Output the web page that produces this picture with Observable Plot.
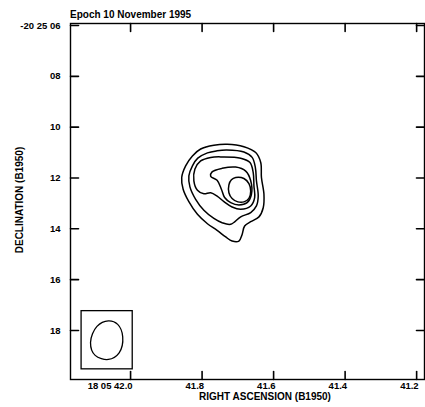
<!DOCTYPE html>
<html>
<head>
<meta charset="utf-8">
<script src="https://cdn.jsdelivr.net/npm/d3@7"></script>
<script src="https://cdn.jsdelivr.net/npm/@observablehq/plot@0.6"></script>
<style>
  html, body { margin: 0; padding: 0; background: #fff; }
  #wrap { position: relative; width: 425px; height: 407px; font-family: "Liberation Sans", Arial, sans-serif; font-weight: bold; color: #000; }
  #wrap svg { position: absolute; left: 0; top: 0; }
  .t { position: absolute; white-space: nowrap; line-height: 12px; }
  #title { left: 70px; top: 9px; font-size: 10px; }
  #xlab { left: 265px; top: 391px; font-size: 10px; transform: translateX(-50%); }
  #ylab { left: 20px; top: 200px; font-size: 10px; transform: translate(-50%, -50%) rotate(-90deg); }
</style>
</head>
<body>
<div id="wrap">
  <div class="t" id="title">Epoch 10 November 1995</div>
  <div class="t" id="xlab">RIGHT ASCENSION (B1950)</div>
  <div class="t" id="ylab">DECLINATION (B1950)</div>
</div>
<script>
// Axis ticks (RA seconds of 18h05m, Dec arcsec of -20°25')
const xTicks = [42.0, 41.8, 41.6, 41.4, 41.2];
const xTickLabels = ["18 05 42.0", "41.8", "41.6", "41.4", "41.2"];
const yTicks = [6, 8, 10, 12, 14, 16, 18];
const yTickLabels = ["-20 25 06", "08", "10", "12", "14", "16", "18"];
const xDomain = [42.168, 41.178];
const yDomain = [19.93, 5.92];

// Contour levels, [RA s, Dec arcsec]
const level1 = [[41.730,10.67],[41.683,10.77],[41.650,11.00],[41.636,11.39],[41.634,11.98],[41.627,12.64],[41.629,13.17],[41.641,13.53],[41.664,13.72],[41.681,13.89],[41.688,14.22],[41.697,14.48],[41.716,14.48],[41.734,14.32],[41.758,14.06],[41.785,13.80],[41.813,13.43],[41.837,12.93],[41.853,12.44],[41.857,11.98],[41.846,11.52],[41.827,11.13],[41.804,10.86],[41.767,10.71]];
const level2 = [[41.731,10.90],[41.683,10.98],[41.660,11.19],[41.651,11.59],[41.648,12.11],[41.643,12.71],[41.648,13.10],[41.664,13.36],[41.692,13.53],[41.720,13.82],[41.744,13.76],[41.767,13.59],[41.795,13.27],[41.818,12.84],[41.834,12.35],[41.837,11.92],[41.827,11.52],[41.812,11.22],[41.785,11.01],[41.758,10.93]];
const level3 = [[41.744,11.17],[41.692,11.22],[41.666,11.39],[41.657,11.79],[41.655,12.31],[41.653,12.77],[41.664,13.10],[41.692,13.23],[41.716,13.14],[41.739,12.93],[41.758,12.71],[41.776,12.58],[41.795,12.62],[41.813,12.48],[41.823,12.11],[41.820,11.65],[41.804,11.33],[41.776,11.19]];
const level4 = [[41.772,11.76],[41.744,11.62],[41.706,11.57],[41.678,11.73],[41.664,12.11],[41.662,12.64],[41.674,12.97],[41.697,13.06],[41.720,12.97],[41.737,12.77],[41.746,12.44],[41.758,12.09],[41.776,11.93]];
const level5 = [[41.706,11.98],[41.683,12.02],[41.669,12.22],[41.664,12.51],[41.669,12.80],[41.683,12.94],[41.700,12.94],[41.716,12.81],[41.725,12.58],[41.725,12.27],[41.718,12.07]];

// Restoring beam and its box
const beam = [[42.062,17.62],[42.036,17.76],[42.022,18.25],[42.032,18.88],[42.062,19.14],[42.099,18.98],[42.112,18.47],[42.094,17.84]];
const beamBox = [{x1: 42.137, x2: 41.994, y1: 17.24, y2: 19.53}];

const contours = [level1, level2, level3, level4, level5].flatMap((pts, i) =>
  pts.map(([ra, dec]) => ({ra, dec, level: i + 1})));
const beamPts = beam.map(([ra, dec]) => ({ra, dec}));

const fmtX = d => xTickLabels[xTicks.indexOf(d)] ?? "";
const fmtY = d => yTickLabels[yTicks.indexOf(d)] ?? "";

const W = 425, H = 407, mL = 70, mR = 1, mT = 23, mB = 28;
const T = 8; // inward tick length (px)

const chart = Plot.plot({
  width: W,
  height: H,
  marginLeft: mL,
  marginRight: mR,
  marginTop: mT,
  marginBottom: mB,
  style: {fontFamily: "'Liberation Sans', Arial, sans-serif", fontWeight: "bold", fontSize: "9.5px", color: "#000", background: "#fff"},
  x: {domain: xDomain, label: null, axis: null},
  y: {domain: yDomain, label: null, axis: null},
  marks: [
    Plot.frame({stroke: "#000", strokeWidth: 1.4}),
    // inward ticks: short vectors anchored on each frame side
    Plot.vector(xTicks, {x: d => d, frameAnchor: "bottom", length: T, rotate: 0, anchor: "start", shape: {draw(c, l) { c.moveTo(0, 0); c.lineTo(0, -l); }}, stroke: "#000", strokeWidth: 1.6}),
    Plot.vector(xTicks, {x: d => d, frameAnchor: "top", length: T, rotate: 180, anchor: "start", shape: {draw(c, l) { c.moveTo(0, 0); c.lineTo(0, -l); }}, stroke: "#000", strokeWidth: 1.6}),
    Plot.vector(yTicks, {y: d => d, frameAnchor: "left", length: T, rotate: 90, anchor: "start", shape: {draw(c, l) { c.moveTo(0, 0); c.lineTo(0, -l); }}, stroke: "#000", strokeWidth: 1.6}),
    Plot.vector(yTicks, {y: d => d, frameAnchor: "right", length: T, rotate: -90, anchor: "start", shape: {draw(c, l) { c.moveTo(0, 0); c.lineTo(0, -l); }}, stroke: "#000", strokeWidth: 1.6}),
    // tick labels
    Plot.axisX({anchor: "bottom", ticks: xTicks, tickSize: 0, tickPadding: 3, tickFormat: fmtX, textAnchor: "end", dx: 2, label: null}),
    Plot.axisY({anchor: "left", ticks: yTicks, tickSize: 0, tickPadding: 10, tickFormat: fmtY, label: null}),
    Plot.line(contours, {x: "ra", y: "dec", z: "level", curve: "catmull-rom-closed", stroke: "#000", strokeWidth: 1.5}),
    Plot.rect(beamBox, {x1: "x1", x2: "x2", y1: "y1", y2: "y2", stroke: "#000", strokeWidth: 1.3, fill: "none"}),
    Plot.line(beamPts, {x: "ra", y: "dec", curve: "catmull-rom-closed", stroke: "#000", strokeWidth: 1.3})
  ]
});
document.getElementById("wrap").prepend(chart);
</script>
</body>
</html>
